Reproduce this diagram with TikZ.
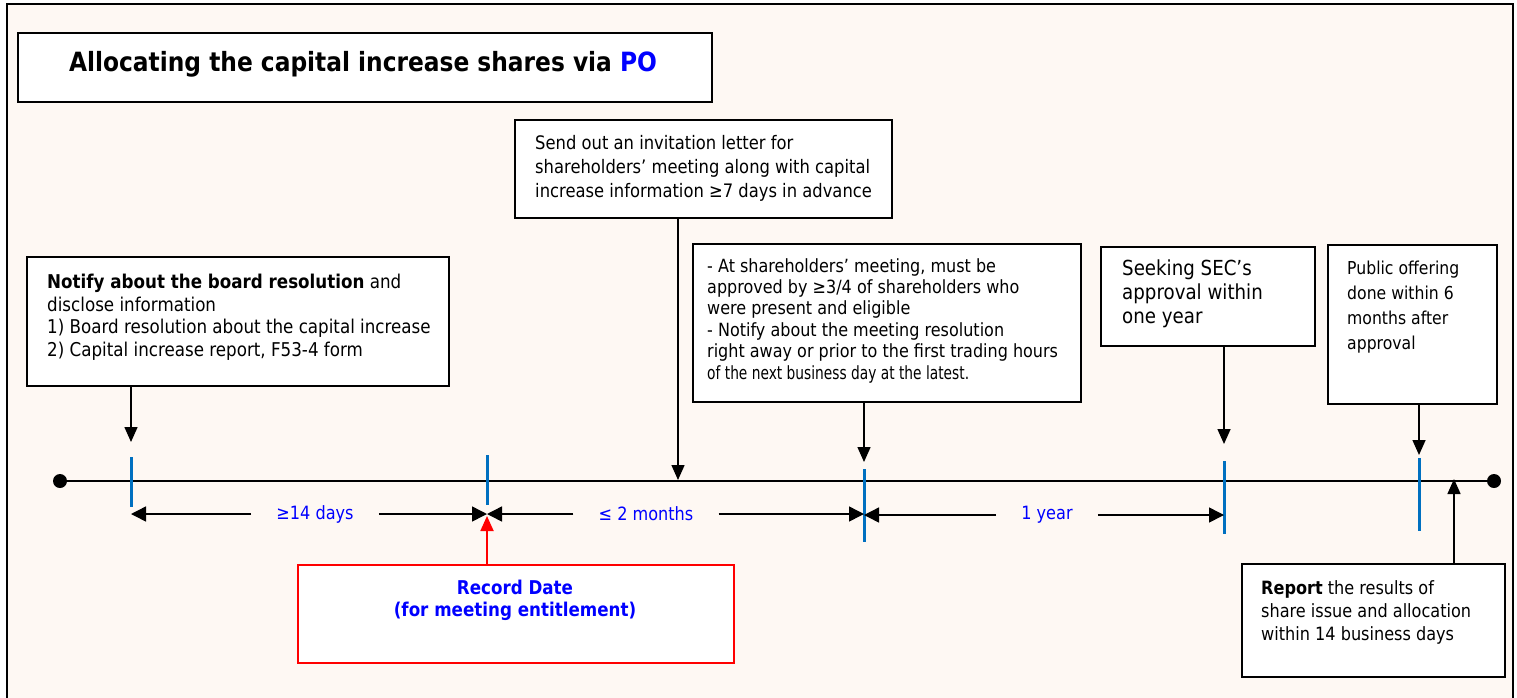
\documentclass[tikz,border=0pt]{standalone}
\usepackage{fontspec}
\usepackage{graphicx}
\setmainfont{DejaVu Sans}[FakeStretch=0.88]
\usetikzlibrary{arrows.meta}
\definecolor{cream}{HTML}{FEF8F3}
\definecolor{tickblue}{HTML}{0070C0}
\definecolor{lblblue}{HTML}{0000FF}
\newcommand\fsz[2]{\fontsize{#1}{#2}\selectfont}
\begin{document}
\begin{tikzpicture}[x=1pt,y=-1pt,
  box/.style={draw=black,line width=1.6pt,fill=white,inner sep=0pt,anchor=north west},
  txt/.style={inner sep=0pt,anchor=north west,align=left},
  arr/.style={line width=1.5pt,-{Triangle[length=15pt,width=13pt]}},
  dimarr/.style={line width=1.5pt,-{Triangle[length=15pt,width=15pt]}},
  tickline/.style={draw=tickblue,line width=3pt},
  lbl/.style={text=lblblue,font=\fsz{18.3}{22},inner xsep=25pt,inner ysep=0pt},
  dot/.style={circle,fill=black,inner sep=0pt,minimum size=14pt}]
\useasboundingbox (0,0) rectangle (1517,697);
\clip (0,0) rectangle (1517,697);
\fill[white] (0,0) rectangle (1517,697);
\draw[line width=2pt,fill=cream] (7,4) rectangle (1513,720);

% title
\node[box,minimum width=694pt,minimum height=69pt] (tb) at (17,32) {};
\node[anchor=base,inner sep=0pt,font=\bfseries\fsz{26.5}{30}] (tt) at (363,71)
  {Allocating the capital increase shares via \textcolor{lblblue}{PO}};

% timeline
\node[dot] (L) at (60,481) {};
\node[dot] (R) at (1494,481) {};
\draw[line width=2.5pt] (L) -- (R);

% ticks
\draw[tickline] (131,457) -- (131,507);
\draw[tickline] (487,455) -- (487,505);
\draw[tickline] (864,469) -- (864,542);
\draw[tickline] (1224,461) -- (1224,534);
\draw[tickline] (1419,458) -- (1419,531);

% arrow tips
\coordinate (a1) at (131,442);
\coordinate (a2) at (678,480);
\coordinate (a3) at (864,462);
\coordinate (a4) at (1224,444);
\coordinate (a5) at (1419,455);
\coordinate (a6) at (1454,479);
\coordinate (a7) at (487,516);

% box 1
\node[box,minimum width=422pt,minimum height=129pt] (b1) at (26,256) {};
\node[txt,font=\fsz{19}{22.5}] (t1) at (47,274)
  {\textbf{Notify about the board resolution} and\\
   disclose information\\
   1) Board resolution about the capital increase\\
   2) Capital increase report, F53-4 form};
\draw[arr] (b1.south -| a1) -- (a1);

% box 2
\node[box,minimum width=377pt,minimum height=98pt] (b2) at (514,119) {};
\node[txt,font=\fsz{18.6}{24}] (t2) at (535,135)
  {Send out an invitation letter for\\
   shareholders’ meeting along with capital\\
   increase information ≥7 days in advance};
\draw[arr] (b2.south -| a2) -- (a2);

% box 3
\node[box,minimum width=388pt,minimum height=158pt] (b3) at (692,243) {};
\node[txt,font=\fsz{18.2}{21.4}] (t3) at (707,258)
  {- At shareholders’ meeting, must be\\
   approved by ≥3/4 of shareholders who\\
   were present and eligible\\
   - Notify about the meeting resolution\\
   right away or prior to the first trading hours\\
   \scalebox{0.86}[1]{of the next business day at the latest.}};
\draw[arr] (b3.south -| a3) -- (a3);

% box 4
\node[box,minimum width=214pt,minimum height=99pt] (b4) at (1100,246) {};
\node[txt,font=\fsz{20.7}{24}] (t4) at (1122,260)
  {Seeking SEC’s\\ approval within\\ one year};
\draw[arr] (b4.south -| a4) -- (a4);

% box 5
\node[box,minimum width=169pt,minimum height=159pt] (b5) at (1327,244) {};
\node[txt,font=\fsz{17.8}{25}] (t5) at (1347,261)
  {Public offering\\ done within 6\\ months after\\ approval};
\draw[arr] (b5.south -| a5) -- (a5);

% box 6
\node[box,minimum width=263pt,minimum height=113pt] (b6) at (1241,563) {};
\node[txt,font=\fsz{18.3}{23}] (t6) at (1261,580)
  {\textbf{Report} the results of\\ share issue and allocation\\ within 14 business days};
\draw[arr] (b6.north -| a6) -- (a6);

% record date
\node[box,draw=red,line width=1.8pt,minimum width=436pt,minimum height=98pt] (rb) at (297,564) {};
\node[anchor=north,inner sep=0pt,align=center,font=\bfseries\fsz{19}{22},text=lblblue] (rt) at (515,580)
  {Record Date\\(for meeting entitlement)};
\draw[line width=1.8pt,red,-{Triangle[length=15pt,width=13pt]}] (rb.north -| a7) -- (a7);

% dimension arrows
\node[lbl] (d1) at (315,514) {≥14 days};
\coordinate (k1) at (131,514);
\coordinate (k2) at (487,514);
\coordinate (k3) at (864,514);
\coordinate (k4) at (864,515);
\coordinate (k5) at (1224,515);
\draw[dimarr] (d1.west) -- (k1);
\draw[dimarr] (d1.east) -- (k2);
\node[lbl] (d2) at (646,514) {≤ 2 months};
\draw[dimarr] (d2.west) -- (k2);
\draw[dimarr] (d2.east) -- (k3);
\node[lbl] (d3) at (1047,515) {1 year};
\draw[dimarr] (d3.west) -- (k4);
\draw[dimarr] (d3.east) -- (k5);
\end{tikzpicture}
\end{document}
